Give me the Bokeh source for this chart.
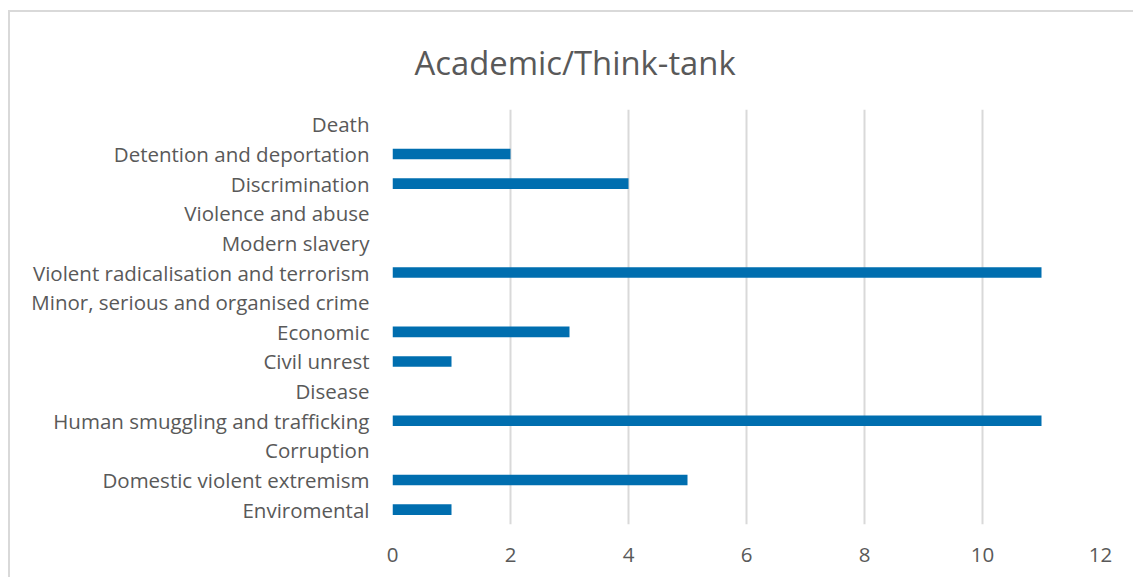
from bokeh.plotting import figure
from bokeh.models import FixedTicker
from bokeh.embed import file_html
from bokeh.resources import INLINE

# Categories listed top to bottom, with the count for each
categories = [
    "Death",
    "Detention and deportation",
    "Discrimination",
    "Violence and abuse",
    "Modern slavery",
    "Violent radicalisation and terrorism",
    "Minor, serious and organised crime",
    "Economic",
    "Civil unrest",
    "Disease",
    "Human smuggling and trafficking",
    "Corruption",
    "Domestic violent extremism",
    "Enviromental",
]
counts = [0, 2, 4, 0, 0, 11, 0, 3, 1, 0, 11, 0, 5, 1]
x_ticks = [0, 2, 4, 6, 8, 10, 12]
title_text = "Academic/Think-tank"

FONT = "Open Sans"
TEXT_COLOR = "#595959"
GRID_COLOR = "#d9d9d9"
BAR_COLOR = "#006eaf"

W, H = 1125, 567

p = figure(
    y_range=list(reversed(categories)),
    x_range=(0, 12),
    width=W,
    height=H,
    output_backend="svg",
    toolbar_location=None,
    min_border_left=382,
    min_border_right=35,
    min_border_top=97,
    min_border_bottom=55,
    title=title_text,
)

p.hbar(y=categories, right=counts, left=0, height=0.36,
       fill_color=BAR_COLOR, line_color=None)

# Axes
p.xaxis.ticker = FixedTicker(ticks=x_ticks)
p.xaxis.axis_line_color = None
p.xaxis.major_tick_line_color = None
p.xaxis.minor_tick_line_color = None
p.xaxis.major_label_text_font = FONT
p.xaxis.major_label_text_font_size = "20.5px"
p.xaxis.major_label_text_color = TEXT_COLOR
p.xaxis.major_label_standoff = 17

p.yaxis.axis_line_color = None
p.yaxis.major_tick_line_color = None
p.yaxis.minor_tick_line_color = None
p.yaxis.major_label_text_font = FONT
p.yaxis.major_label_text_font_size = "20.5px"
p.yaxis.major_label_text_color = TEXT_COLOR
p.yaxis.major_label_standoff = 17

p.xgrid.grid_line_color = GRID_COLOR
p.xgrid.grid_line_width = 2
p.ygrid.grid_line_color = None
p.outline_line_color = None

# Chart title, centred over the whole chart area rather than the frame
p.title.align = "left"
p.title.offset = 22
p.title.standoff = 49
p.title.text_line_height = 1.0
p.title.text_font = FONT
p.title.text_font_size = "32.8px"
p.title.text_font_style = "normal"
p.title.text_color = TEXT_COLOR

# Light frame around the chart area
p.styles = {
    "margin-left": "8px",
    "margin-top": "10px",
    "border-left": "2px solid #d9d9d9",
    "border-top": "2px solid #d9d9d9",
}

open("out.html", "w").write(file_html(p, INLINE))
